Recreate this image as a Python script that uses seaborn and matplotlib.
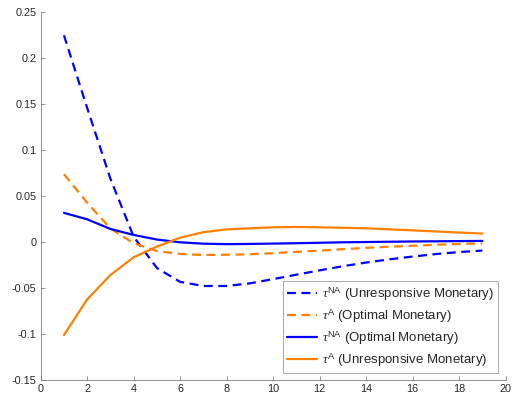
import numpy as np
import pandas as pd
import seaborn as sns
import matplotlib
matplotlib.use("Agg")
import matplotlib.pyplot as plt

# Horizon (periods)
periods = list(range(1, 20))

# tau^NA under an unresponsive monetary authority
tau_na_unresp = [0.225, 0.146, 0.069, 0.006, -0.028, -0.043, -0.0475, -0.0475, -0.0446,
                 -0.040, -0.0352, -0.0305, -0.026, -0.022, -0.0185, -0.0155, -0.0128,
                 -0.0106, -0.009]
# tau^A under optimal monetary policy
tau_a_opt = [0.074, 0.043, 0.015, -0.001, -0.0095, -0.0127, -0.0138, -0.0135, -0.013,
             -0.0118, -0.0104, -0.009, -0.0075, -0.006, -0.0048, -0.0037, -0.0027,
             -0.0018, -0.0012]
# tau^NA under optimal monetary policy
tau_na_opt = [0.032, 0.025, 0.0145, 0.008, 0.003, 0.0, -0.0015, -0.002, -0.0018,
              -0.0014, -0.001, -0.0005, 0.0, 0.0003, 0.0006, 0.0009, 0.0011,
              0.0013, 0.0015]
# tau^A under an unresponsive monetary authority
tau_a_unresp = [-0.1008, -0.062, -0.0355, -0.0163, -0.0047, 0.005, 0.011, 0.014, 0.0152,
                0.0163, 0.0167, 0.0163, 0.0158, 0.0152, 0.0141, 0.013, 0.0118,
                0.0106, 0.0095]

labels = [r"$\tau^{\mathrm{NA}}$ (Unresponsive Monetary)",
          r"$\tau^{\mathrm{A}}$ (Optimal Monetary)",
          r"$\tau^{\mathrm{NA}}$ (Optimal Monetary)",
          r"$\tau^{\mathrm{A}}$ (Unresponsive Monetary)"]
series = [tau_na_unresp, tau_a_opt, tau_na_opt, tau_a_unresp]

df = pd.concat(
    [pd.DataFrame({"period": periods, "value": s, "series": lab})
     for s, lab in zip(series, labels)],
    ignore_index=True,
)

sns.set_theme(style="white")
plt.rcParams["font.family"] = ["Liberation Sans", "DejaVu Sans"]
plt.rcParams["mathtext.fontset"] = "custom"
plt.rcParams["mathtext.rm"] = "Liberation Sans"
plt.rcParams["mathtext.it"] = "Liberation Serif:italic"

blue = "#0000ff"
orange = "#ff8000"
palette = {labels[0]: blue, labels[1]: orange, labels[2]: blue, labels[3]: orange}
dash_map = {labels[0]: (4, 2.5), labels[1]: (4, 2.5), labels[2]: "", labels[3]: ""}

fig = plt.figure(figsize=(5.12, 4.05), dpi=100)
ax = fig.add_axes([0.0795, 0.061, 0.908, 0.9086])

sns.lineplot(data=df, x="period", y="value", hue="series", style="series",
             palette=palette, dashes=dash_map, hue_order=labels, style_order=labels,
             linewidth=1.6, ax=ax)

ax.set_xlim(0, 20)
ax.set_ylim(-0.15, 0.25)
ax.set_xticks(np.arange(0, 21, 2))
yt = [-0.15, -0.1, -0.05, 0, 0.05, 0.1, 0.15, 0.2, 0.25]
ax.set_yticks(yt)
ax.set_yticklabels(["-0.15", "-0.1", "-0.05", "0", "0.05", "0.1", "0.15", "0.2", "0.25"])
ax.set_xlabel("")
ax.set_ylabel("")

for side in ("top", "right"):
    ax.spines[side].set_visible(False)
for side in ("left", "bottom"):
    ax.spines[side].set_color("#808080")
    ax.spines[side].set_linewidth(0.6)
ax.tick_params(direction="in", length=3, width=0.6, color="#808080",
               labelsize=7.8, labelcolor="#262626", left=True, bottom=True, pad=3)

leg = ax.legend(loc="lower right", fontsize=9.5, frameon=True, fancybox=False,
                edgecolor="#808080", borderpad=0.3, handlelength=2.3,
                labelspacing=0.35, borderaxespad=0.55, handletextpad=0.4)
leg.get_frame().set_linewidth(0.6)

fig.savefig("out.png", dpi=100)
